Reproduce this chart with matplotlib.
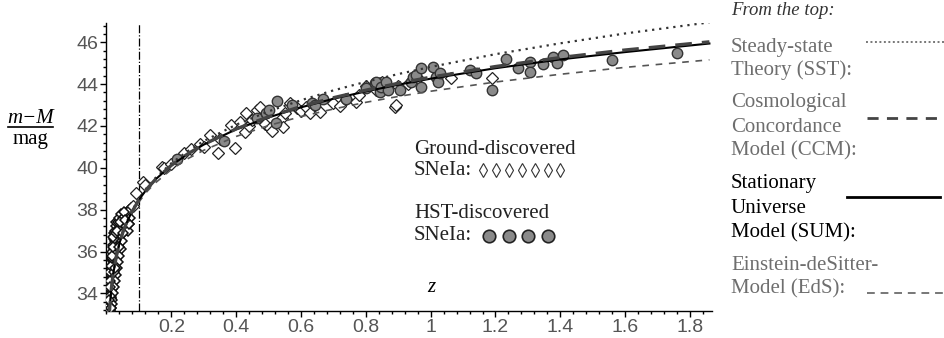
import numpy as np
import matplotlib
matplotlib.use("Agg")
import matplotlib.pyplot as plt
from matplotlib.lines import Line2D
from matplotlib.ticker import MultipleLocator

# model curves, distance modulus m-M vs redshift z
z_model = [0.008, 0.01, 0.015, 0.02, 0.03, 0.04, 0.05, 0.06, 0.075, 0.1, 0.125, 0.15,
           0.2, 0.25, 0.3, 0.4, 0.5, 0.6, 0.7, 0.8, 0.9, 1.0, 1.2, 1.4, 1.6, 1.86]
mu_sst = [32.85, 33.34, 34.23, 34.87, 35.77, 36.41, 36.92, 37.34, 37.85, 38.53, 39.06, 39.50,
          40.22, 40.79, 41.28, 42.06, 42.70, 43.23, 43.70, 44.11, 44.48, 44.82, 45.43, 45.95, 46.42, 46.95]
mu_ccm = [32.85, 33.34, 34.22, 34.86, 35.75, 36.40, 36.90, 37.31, 37.80, 38.47, 39.00, 39.43,
          40.12, 40.66, 41.12, 41.86, 42.44, 42.93, 43.35, 43.71, 44.04, 44.33, 44.84, 45.27, 45.63, 46.02]
mu_sum = [32.85, 33.34, 34.22, 34.86, 35.75, 36.40, 36.90, 37.31, 37.80, 38.47, 39.00, 39.43,
          40.12, 40.65, 41.11, 41.84, 42.41, 42.89, 43.30, 43.65, 43.97, 44.26, 44.76, 45.18, 45.53, 45.94]
mu_eds = [32.84, 33.32, 34.21, 34.84, 35.72, 36.35, 36.84, 37.24, 37.73, 38.37, 38.87, 39.27,
          39.92, 40.43, 40.84, 41.50, 42.02, 42.45, 42.81, 43.13, 43.41, 43.66, 44.10, 44.47, 44.80, 45.16]

# ground-discovered SNe Ia
z_ground = [0.010, 0.010, 0.011, 0.011, 0.012, 0.012, 0.013, 0.013, 0.014, 0.014, 0.015, 0.015,
            0.016, 0.016, 0.017, 0.017, 0.018, 0.018, 0.019, 0.020, 0.020, 0.021, 0.022, 0.022,
            0.023, 0.024, 0.024, 0.025, 0.026, 0.026, 0.027, 0.028, 0.028, 0.029, 0.030, 0.031,
            0.032, 0.033, 0.034, 0.035, 0.036, 0.038, 0.040, 0.041, 0.043, 0.045, 0.047, 0.050,
            0.053, 0.056, 0.060, 0.064, 0.070, 0.075, 0.083, 0.092, 0.114, 0.120,
            0.009, 0.010, 0.011, 0.012, 0.012, 0.013, 0.014, 0.015, 0.016, 0.017, 0.018, 0.019,
            0.019, 0.020, 0.021, 0.022, 0.023, 0.024, 0.025, 0.026, 0.027, 0.028, 0.030, 0.031,
            0.033, 0.035, 0.037, 0.039, 0.042, 0.044, 0.046, 0.049, 0.052, 0.055, 0.058, 0.062,
            0.066, 0.068, 0.072,
            0.012, 0.014, 0.016, 0.018, 0.020, 0.022, 0.024, 0.026, 0.028, 0.030, 0.034, 0.036,
            0.040, 0.045, 0.050, 0.055, 0.060, 0.065, 0.070, 0.048, 0.044, 0.040, 0.036, 0.032,
            0.028, 0.025, 0.022, 0.020, 0.018, 0.016, 0.015, 0.013, 0.012, 0.011, 0.010, 0.009,
            0.017, 0.019, 0.021, 0.023, 0.027, 0.029, 0.032, 0.038, 0.042, 0.052, 0.058,
            0.171, 0.176, 0.200, 0.240, 0.260, 0.287, 0.300, 0.320, 0.345, 0.350, 0.385, 0.397,
            0.412, 0.428, 0.430, 0.440, 0.450, 0.463, 0.474, 0.490, 0.505, 0.510, 0.540, 0.545,
            0.551, 0.566, 0.587, 0.600, 0.617, 0.628, 0.658, 0.700, 0.720, 0.740, 0.771, 0.780,
            0.800, 0.830, 0.850, 0.889, 0.894, 0.900, 0.930, 0.960, 1.063, 1.190]
mu_ground = [33.2, 33.6, 33.4, 33.9, 33.5, 34.0, 33.8, 34.3, 34.1, 34.6, 33.9, 34.4,
             34.2, 34.8, 34.5, 35.0, 34.7, 35.3, 34.9, 35.1, 35.6, 35.2, 35.4, 35.9,
             35.5, 35.7, 36.1, 35.4, 35.9, 36.3, 35.8, 36.0, 36.5, 36.2, 35.9, 36.4,
             36.1, 36.6, 36.3, 36.8, 36.5, 36.9, 36.6, 37.1, 36.9, 37.2, 37.0, 37.3,
             37.6, 37.4, 37.7, 37.8, 38.0, 38.1, 38.2, 38.8, 39.3, 39.2,
             33.4, 34.0, 34.2, 33.2, 34.5, 34.0, 33.8, 34.9, 35.3, 35.6, 35.0, 35.6,
             34.6, 34.9, 35.8, 35.1, 36.0, 35.3, 36.2, 36.6, 36.5, 35.6, 36.8, 36.0,
             35.9, 36.3, 37.0, 37.3, 36.5, 37.5, 36.8, 37.1, 37.0, 37.7, 37.3, 37.5,
             37.9, 37.3, 37.6,
             35.0, 35.3, 35.7, 36.0, 36.3, 36.6, 36.9, 37.0, 37.2, 37.4, 37.1, 37.4,
             37.6, 37.8, 37.6, 37.9, 37.2, 37.0, 37.3, 36.5, 36.1, 35.8, 35.5, 35.2,
             34.9, 34.6, 34.3, 34.0, 33.7, 33.5, 33.3, 33.3, 33.9, 34.6, 34.3, 33.7,
             35.8, 36.2, 36.7, 35.0, 35.2, 36.9, 37.0, 36.2, 37.4, 36.9, 37.5,
             40.05, 40.0, 40.2, 40.7, 40.9, 41.14, 41.0, 41.57, 40.7, 41.4, 42.05, 40.95,
             42.2, 41.73, 42.6, 42.0, 42.3, 42.76, 42.92, 42.1, 41.9, 41.76, 42.4, 41.97,
             42.6, 43.08, 42.84, 42.7, 42.92, 42.6, 42.68, 43.1, 42.95, 43.3, 43.16, 43.5,
             43.9, 43.7, 44.1, 42.92, 43.0, 43.9, 44.0, 44.3, 44.28, 44.28]

# HST-discovered SNe Ia
z_hst = [0.217, 0.363, 0.463, 0.492, 0.500, 0.523, 0.525, 0.571, 0.633, 0.643, 0.668, 0.740,
         0.800, 0.827, 0.832, 0.843, 0.848, 0.863, 0.869, 0.905, 0.940, 0.946, 0.956, 0.971,
         0.971, 1.007, 1.017, 1.023, 1.028, 1.120, 1.140, 1.190, 1.233, 1.270, 1.305, 1.305,
         1.346, 1.376, 1.390, 1.407, 1.561, 1.761]
mu_hst = [40.41, 41.30, 42.37, 42.60, 42.76, 42.16, 43.20, 43.00, 43.08, 43.00, 43.30, 43.30,
          43.80, 44.04, 44.12, 43.64, 43.88, 44.12, 43.72, 43.72, 44.12, 44.36, 44.44, 43.88,
          44.76, 44.83, 44.36, 44.12, 44.52, 44.68, 44.52, 43.72, 45.20, 44.76, 45.07, 44.60,
          44.95, 45.28, 45.00, 45.39, 45.15, 45.47]

W, H = 945, 338


def fx(x):
    return x / W


def fy(y):
    return 1 - y / H


fig = plt.figure(figsize=(9.45, 3.38), dpi=100)
ax = fig.add_axes([fx(106.5), fy(311), (712 - 106.5) / W, (311 - 23) / H])

zg = np.array(z_ground)
mg = np.array(mu_ground)
near = zg < 0.08
# the crowded nearby sample reads as a dark smear in the original
ax.plot(zg[near], mg[near], ls="none", marker="D", ms=4.8, mfc="white", mec="#111111", mew=1.1, zorder=3)
ax.plot(zg[~near], mg[~near], ls="none", marker="D", ms=6, mfc="white", mec="#222222", mew=0.9, zorder=3)
ax.plot(z_hst, mu_hst, ls="none", marker="o", ms=7.5, mfc="#8a8a8a", mec="#333333", mew=1.0, zorder=4)

ax.plot(z_model, mu_eds, color="#555555", lw=1.2, dashes=(4, 4), zorder=5)
ax.plot(z_model, mu_sst, color="#333333", lw=1.6, ls=(0, (1, 2.2)), zorder=5)
ax.plot(z_model, mu_sum, color="black", lw=1.5, zorder=5)
ax.plot(z_model, mu_ccm, color="#444444", lw=2.4, dashes=(5, 3), zorder=6)
ax.axvline(0.1, color="black", lw=0.9, ls="-.", zorder=2)

ax.set_xlim(0, 1.868)
ax.set_ylim(33.16, 46.92)
for s in ["top", "right"]:
    ax.spines[s].set_visible(False)
for s in ["left", "bottom"]:
    ax.spines[s].set_linewidth(1.0)
ax.set_xticks([0.2, 0.4, 0.6, 0.8, 1.0, 1.2, 1.4, 1.6, 1.8])
ax.set_xticklabels(["0.2", "0.4", "0.6", "0.8", "1", "1.2", "1.4", "1.6", "1.8"])
ax.set_yticks([34, 36, 38, 40, 42, 44, 46])
ax.xaxis.set_minor_locator(MultipleLocator(0.04))
ax.yaxis.set_minor_locator(MultipleLocator(0.4))
ax.tick_params(which="major", length=4, width=1, labelsize=14, labelcolor="#555555", pad=2)
ax.tick_params(which="minor", length=2.5, width=1)
for lab in ax.get_xticklabels() + ax.get_yticklabels():
    lab.set_family("Liberation Sans")

serif = "Liberation Serif"
fs = 15

# y label as fraction
fig.text(fx(31), fy(123), "m\u2212M", family=serif, style="italic", fontsize=fs, ha="center", va="baseline")
fig.add_artist(Line2D([fx(8), fx(53)], [fy(127), fy(127)], color="black", lw=1.2, transform=fig.transFigure))
fig.text(fx(31), fy(144), "mag", family=serif, fontsize=fs, ha="center", va="baseline")
fig.text(fx(431), fy(292), "z", family=serif, style="italic", fontsize=fs, ha="center", va="baseline")

# in-plot legend
fig.text(fx(414), fy(154), "Ground-discovered", family=serif, fontsize=fs, va="baseline", color="#222222")
fig.text(fx(414), fy(175), "SNeIa:", family=serif, fontsize=fs, va="baseline", color="#222222")
xs = [fx(483 + 12.9 * i) for i in range(7)]
fig.add_artist(Line2D(xs, [fy(170)] * 7, ls="none", marker="d", ms=7, mfc="white", mec="#333333",
                      mew=0.8, transform=fig.transFigure))
fig.text(fx(414), fy(218), "HST-discovered", family=serif, fontsize=fs, va="baseline", color="#222222")
fig.text(fx(414), fy(240), "SNeIa:", family=serif, fontsize=fs, va="baseline", color="#222222")
xs = [fx(489 + 19.6 * i) for i in range(4)]
fig.add_artist(Line2D(xs, [fy(236)] * 4, ls="none", marker="o", ms=9, mfc="#8a8a8a", mec="#222222",
                      mew=1.2, transform=fig.transFigure))

# right legend
gray = "#6e6e6e"
fig.text(fx(731), fy(15), "From the top:", family=serif, style="italic", fontsize=13.5, va="baseline",
         color="#333333")
rows = [
    ("Steady-state", 52, gray), ("Theory (SST):", 75, gray),
    ("Cosmological", 107, gray), ("Concordance", 132, gray), ("Model (CCM):", 155, gray),
    ("Stationary", 188, "black"), ("Universe", 213, "black"), ("Model (SUM):", 237, "black"),
    ("Einstein-deSitter-", 270, gray), ("Model (EdS):", 293, gray),
]
for txt, yb, c in rows:
    fig.text(fx(731), fy(yb), txt, family=serif, fontsize=fs, va="baseline", color=c)

fig.add_artist(Line2D([fx(866), fx(945)], [fy(42), fy(42)], color="#777777", lw=1.4, ls=(0, (1, 1.3)),
                      transform=fig.transFigure))
fig.add_artist(Line2D([fx(867), fx(945)], [fy(118), fy(118)], color="#444444", lw=2.0, dashes=(4, 3),
                      transform=fig.transFigure))
fig.add_artist(Line2D([fx(847), fx(940)], [fy(197), fy(197)], color="black", lw=2.0,
                      transform=fig.transFigure))
fig.add_artist(Line2D([fx(867), fx(945)], [fy(293), fy(293)], color="#777777", lw=1.4, dashes=(4, 3),
                      transform=fig.transFigure))

fig.savefig("out.png", dpi=100)
